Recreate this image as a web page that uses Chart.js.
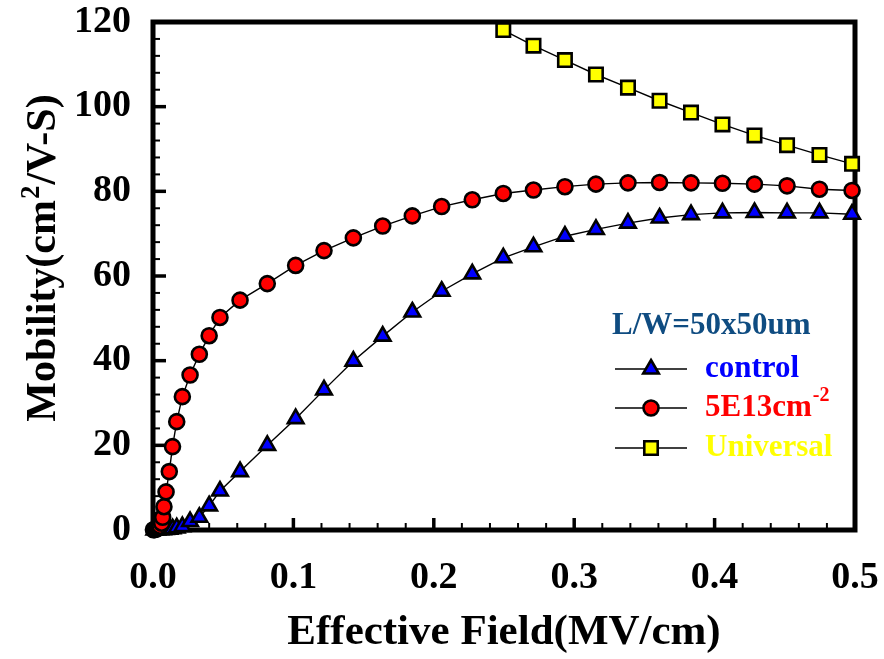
<!DOCTYPE html>
<html><head><meta charset="utf-8">
<script src="https://cdn.jsdelivr.net/npm/chart.js@4.4.0/dist/chart.umd.min.js"></script>
<style>html,body{margin:0;padding:0;background:#fff;}#wrap{width:884px;height:659px;}</style>
</head><body><div id="wrap"><canvas id="c" width="884" height="659"></canvas></div>
<script>
// ---- data ----
const xTickLabels = ['0.0', '0.1', '0.2', '0.3', '0.4', '0.5'];
const yTickLabels = ['0', '20', '40', '60', '80', '100', '120'];
const xAxisTitle = 'Effective Field(MV/cm)';
const yAxisTitleMain = 'Mobility(cm';
const yAxisTitleSup = '2';
const yAxisTitleEnd = '/V-S)';
const legendTitle = 'L/W=50x50um';
const seriesLabels = ['control', '5E13cm', 'Universal'];
const seriesLabelSup = ['', '-2', ''];

const fieldControl = [0.001, 0.003, 0.005, 0.007, 0.009, 0.0116, 0.0139, 0.0169, 0.0209,
  0.0264, 0.033, 0.040, 0.0477, 0.062, 0.0814,
  0.1016, 0.1218, 0.1427, 0.1636, 0.1847, 0.2056, 0.2274,
  0.2495, 0.271, 0.2934, 0.3155, 0.3383, 0.3608, 0.3832, 0.4056, 0.4284, 0.4516, 0.4747, 0.4979];
const mobilityControl = [0.0, 0.02, 0.05, 0.1, 0.15, 0.2, 0.3, 0.5, 0.8,
  2.0, 3.0, 5.7, 9.2, 13.8, 20.0,
  26.3, 33.1, 39.9, 45.8, 51.5, 56.4, 60.5,
  64.3, 66.9, 69.4, 71.0, 72.5, 73.7, 74.5, 74.9, 75.0, 74.9, 74.9, 74.6];

const fieldDoped = [0.0003, 0.001, 0.002, 0.003, 0.004, 0.005,
  0.0062, 0.0069, 0.0078, 0.0093, 0.0116, 0.0139, 0.0169, 0.0209, 0.0264, 0.033, 0.040, 0.0477, 0.062, 0.0814,
  0.1016, 0.1218, 0.1427, 0.1636, 0.1847, 0.2056, 0.2274,
  0.2495, 0.271, 0.2934, 0.3155, 0.3383, 0.3608, 0.3832, 0.4056, 0.4284, 0.4516, 0.4747, 0.4979];
const mobilityDoped = [0.05, 0.1, 0.2, 0.35, 0.55, 0.9,
  1.6, 3.0, 5.5, 9.0, 13.8, 19.7, 25.6, 31.5, 36.6, 41.5, 45.9, 50.2, 54.3, 58.2,
  62.5, 66.0, 69.0, 71.8, 74.2, 76.4, 78.0,
  79.5, 80.3, 81.1, 81.7, 82.0, 82.1, 82.0, 81.9, 81.7, 81.3, 80.5, 80.2];

const fieldUniversal = [0.2495, 0.271, 0.2934, 0.3155, 0.3383, 0.3608, 0.3832, 0.4056, 0.4284, 0.4516, 0.4747, 0.4979];
const mobilityUniversal = [118.1, 114.4, 111.0, 107.6, 104.5, 101.4, 98.6, 95.8, 93.2, 90.9, 88.6, 86.5];

// ---- styles ----
const FONT = "'Liberation Serif', 'Times New Roman', serif";
const colors = ['#0000FF', '#FF0000', '#FFFF00'];
const styles = ['triangle', 'circle', 'rect'];
const radii = [9, 7.5, 9.5];

const pts = (xs, ys) => xs.map((x, i) => ({x: x, y: ys[i]}));
const fields = [fieldControl, fieldDoped, fieldUniversal];
const mobs = [mobilityControl, mobilityDoped, mobilityUniversal];
const orders = [1, 0, 2];

const datasets = seriesLabels.map((lab, i) => ({
  label: lab + seriesLabelSup[i],
  data: pts(fields[i], mobs[i]),
  showLine: true,
  borderColor: '#000',
  borderWidth: 1.4,
  pointStyle: styles[i],
  pointRadius: radii[i],
  pointBackgroundColor: colors[i],
  pointBorderColor: '#000',
  pointBorderWidth: 2.6,
  clip: false,
  order: orders[i]
}));

const framePlugin = {
  id: 'frame',
  beforeDatasetsDraw(chart) {
    const {ctx, chartArea: a, scales: {x, y}} = chart;
    ctx.save();
    ctx.strokeStyle = '#000';
    ctx.lineCap = 'butt';
    for (let k = 1; k < 25; k++) {
      const px = x.getPixelForValue(k * 0.02);
      const major = k % 5 === 0;
      ctx.lineWidth = major ? 3.5 : 2;
      ctx.beginPath();
      ctx.moveTo(px, a.bottom);
      ctx.lineTo(px, a.bottom - (major ? 12 : 7));
      ctx.stroke();
    }
    for (let k = 1; k < 30; k++) {
      const py = y.getPixelForValue(k * 4);
      const major = k % 5 === 0;
      ctx.lineWidth = major ? 3.5 : 2;
      ctx.beginPath();
      ctx.moveTo(a.left, py);
      ctx.lineTo(a.left + (major ? 13 : 7), py);
      ctx.stroke();
    }
    ctx.lineWidth = 5;
    ctx.lineJoin = 'miter';
    ctx.strokeRect(a.left, a.top, a.right - a.left, a.bottom - a.top);
    ctx.restore();
  },
  afterDraw(chart) {
    const {ctx, chartArea: a} = chart;
    ctx.save();
    // y axis title
    const f = 'bold 42px ' + FONT, fs = 'bold 27px ' + FONT;
    ctx.font = f;
    const w1 = ctx.measureText(yAxisTitleMain).width;
    const w3 = ctx.measureText(yAxisTitleEnd).width;
    ctx.font = fs;
    const w2 = ctx.measureText(yAxisTitleSup).width;
    const tot = w1 + w2 + w3;
    ctx.translate(55, 259);
    ctx.rotate(-Math.PI / 2);
    ctx.fillStyle = '#000';
    ctx.textBaseline = 'alphabetic';
    ctx.textAlign = 'left';
    let sx = -tot / 2;
    ctx.font = f; ctx.fillText(yAxisTitleMain, sx, 0); sx += w1;
    ctx.font = fs; ctx.fillText(yAxisTitleSup, sx + 1, -16); sx += w2 + 2;
    ctx.font = f; ctx.fillText(yAxisTitleEnd, sx, 0);
    ctx.restore();

    // legend
    ctx.save();
    ctx.textBaseline = 'middle';
    ctx.textAlign = 'left';
    ctx.font = 'bold 31px ' + FONT;
    ctx.fillStyle = '#0F4C81';
    ctx.fillText(legendTitle, 612, 326);
    const rows = [369, 408, 448];
    seriesLabels.forEach((lab, i) => {
      const yy = rows[i];
      ctx.strokeStyle = '#000';
      ctx.lineWidth = 1.4;
      ctx.beginPath(); ctx.moveTo(615, yy); ctx.lineTo(687, yy); ctx.stroke();
      ctx.fillStyle = colors[i];
      ctx.strokeStyle = '#000';
      ctx.lineWidth = 2.6;
      Chart.helpers.drawPoint(ctx, {pointStyle: styles[i], radius: radii[i], rotation: 0, borderWidth: 2.6}, 651, yy);
      ctx.fillStyle = colors[i];
      ctx.font = 'bold 31px ' + FONT;
      ctx.fillText(lab, 705, yy);
      if (seriesLabelSup[i]) {
        const lw = ctx.measureText(lab).width;
        ctx.font = 'bold 20px ' + FONT;
        ctx.fillText(seriesLabelSup[i], 705 + lw + 1, yy - 12);
      }
    });
    ctx.restore();
  }
};

new Chart(document.getElementById('c').getContext('2d'), {
  type: 'scatter',
  data: {datasets: datasets},
  options: {
    responsive: false,
    animation: false,
    devicePixelRatio: 1,
    layout: {padding: {left: 0, right: 29, top: 22, bottom: 0}},
    plugins: {legend: {display: false}, tooltip: {enabled: false}},
    scales: {
      x: {
        type: 'linear', min: 0, max: 0.5,
        afterFit(s) { s.height = 129; s.paddingLeft = 0; s.paddingRight = 0; },
        afterBuildTicks(s) { s.ticks = xTickLabels.map(t => ({value: parseFloat(t)})); },
        ticks: {
          callback: (v, i) => xTickLabels[i],
          font: {family: FONT, size: 38, weight: 'bold'}, color: '#000',
          padding: 25, maxRotation: 0, autoSkip: false
        },
        grid: {display: false, drawTicks: false},
        border: {display: false},
        title: {display: true, text: xAxisTitle, color: '#000',
          font: {family: FONT, size: 43, weight: 'bold'}, padding: {top: 0, bottom: 0}}
      },
      y: {
        type: 'linear', min: 0, max: 120,
        afterFit(s) { s.width = 153; s.paddingTop = 0; s.paddingBottom = 0; },
        afterBuildTicks(s) { s.ticks = yTickLabels.map(t => ({value: parseFloat(t)})); },
        ticks: {
          callback: (v, i) => yTickLabels[i],
          font: {family: FONT, size: 38, weight: 'bold'}, color: '#000',
          padding: 22, autoSkip: false
        },
        grid: {display: false, drawTicks: false},
        border: {display: false}
      }
    }
  },
  plugins: [framePlugin]
});
</script></body></html>
